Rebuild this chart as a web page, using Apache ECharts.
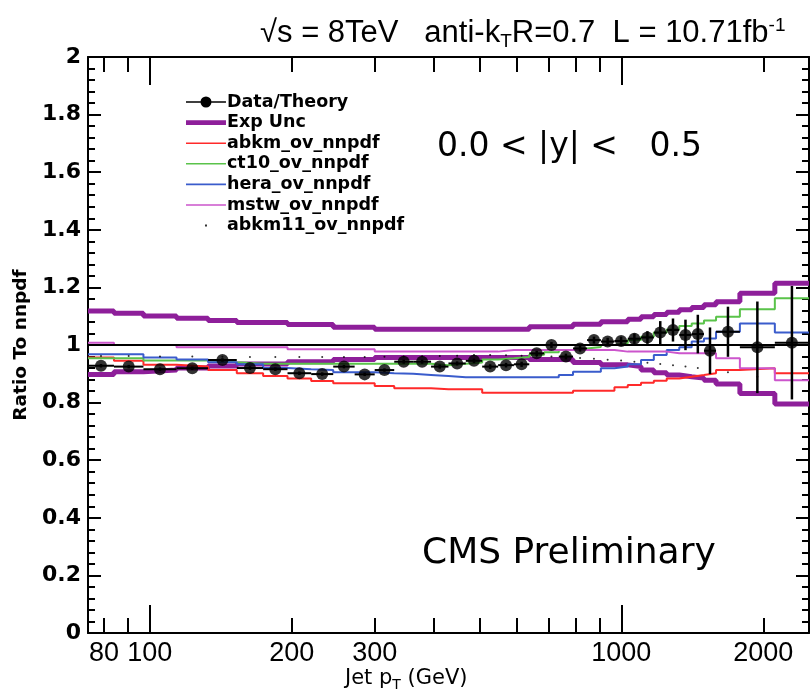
<!DOCTYPE html>
<html><head><meta charset="utf-8">
<script src="https://cdn.jsdelivr.net/npm/echarts@6/dist/echarts.min.js"></script>
<style>html,body{margin:0;padding:0;background:#fff}#c{width:811px;height:696px}</style>
</head><body><div id="c"></div>
<script>
// ---- data ----
const xMin = 74, xMax = 2500;
const binEdges = [74,84,97,114,133,153,174,196,220,245,272,300,330,362,395,430,468,507,548,592,638,686,737,790,846,905,967,1032,1101,1172,1248,1327,1410,1497,1588,1784,2116,2500];
const dataRatio = [0.928,0.925,0.916,0.919,0.948,0.920,0.916,0.902,0.899,0.925,0.898,0.913,0.942,0.942,0.925,0.936,0.945,0.925,0.930,0.933,0.971,1.000,0.960,0.988,1.017,1.012,1.014,1.022,1.026,1.043,1.052,1.035,1.038,0.980,1.046,0.992,1.008];
const dataErr = [0.006,0.006,0.006,0.006,0.006,0.006,0.006,0.006,0.006,0.006,0.006,0.006,0.007,0.007,0.007,0.007,0.008,0.008,0.008,0.009,0.009,0.010,0.010,0.011,0.012,0.013,0.015,0.018,0.022,0.040,0.040,0.053,0.067,0.081,0.087,0.159,0.197];
const expUncUp = [1.118,1.110,1.101,1.093,1.085,1.078,1.078,1.071,1.071,1.062,1.062,1.055,1.055,1.055,1.055,1.055,1.055,1.055,1.055,1.055,1.063,1.063,1.063,1.072,1.072,1.081,1.081,1.089,1.098,1.106,1.114,1.122,1.130,1.140,1.150,1.180,1.214];
const expUncLow = [0.898,0.907,0.913,0.920,0.927,0.934,0.934,0.942,0.942,0.950,0.950,0.957,0.957,0.957,0.957,0.957,0.957,0.957,0.957,0.957,0.950,0.950,0.950,0.939,0.939,0.931,0.931,0.925,0.913,0.904,0.896,0.890,0.885,0.878,0.865,0.832,0.795];
const abkm = [0.957,0.945,0.931,0.925,0.913,0.902,0.892,0.884,0.875,0.867,0.867,0.858,0.850,0.850,0.846,0.846,0.846,0.834,0.834,0.834,0.834,0.834,0.834,0.841,0.841,0.841,0.853,0.861,0.869,0.876,0.884,0.890,0.896,0.902,0.913,0.919,0.902];
const ct10 = [0.954,0.954,0.946,0.946,0.940,0.935,0.935,0.935,0.935,0.935,0.935,0.935,0.935,0.935,0.930,0.935,0.939,0.950,0.954,0.958,0.966,0.975,0.983,0.988,0.993,1.000,1.006,1.017,1.029,1.043,1.054,1.066,1.075,1.085,1.098,1.124,1.162];
const hera = [0.968,0.968,0.957,0.950,0.940,0.933,0.920,0.916,0.913,0.905,0.905,0.902,0.900,0.896,0.892,0.888,0.888,0.888,0.888,0.888,0.888,0.888,0.896,0.907,0.907,0.919,0.925,0.933,0.948,0.965,0.983,0.992,1.012,1.023,1.046,1.075,1.043];
const mstw = [1.008,1.000,1.000,0.992,0.992,0.992,0.992,0.985,0.985,0.985,0.985,0.977,0.977,0.977,0.977,0.977,0.977,0.977,0.983,0.983,0.983,0.983,0.983,0.983,0.983,0.983,0.977,0.977,0.977,0.977,0.971,0.971,0.971,0.971,0.954,0.919,0.878];
const abkm11 = [0.962,0.962,0.960,0.960,0.959,0.958,0.958,0.958,0.958,0.958,0.958,0.959,0.960,0.961,0.962,0.963,0.965,0.965,0.964,0.963,0.962,0.960,0.958,0.955,0.952,0.949,0.946,0.942,0.938,0.934,0.930,0.925,0.920,0.915,0.905,0.890,0.870];
const xLabelValues = [80,100,200,300,1000,2000];
const xMajorTicks = [100,1000];
const xMinorTicks = [80,90,200,300,400,500,600,700,800,900,2000];

// ---- helpers ----
const nb = binEdges.length - 1;
const centers = [];
for (let i = 0; i < nb; i++) centers.push(Math.sqrt(binEdges[i] * binEdges[i + 1]));
function stepData(vals) {
  const d = vals.map((v, i) => [binEdges[i], v]);
  d.push([binEdges[nb], vals[nb - 1]]);
  return d;
}
const FONT = 'DejaVu Sans';
const HELV = 'Liberation Sans';
const C = { purple: '#8e1f9a', red: '#ff2a2a', green: '#5ac34a', blue: '#3a5ccc', mag: '#cc55cc' };

function histSeries(name, vals, color, width) {
  return { name, type: 'line', step: 'end', data: stepData(vals), symbol: 'none', color,
    lineStyle: { color, width }, silent: true, animation: false, z: 3 };
}

const errData = dataRatio.map((v, i) => [centers[i], v, binEdges[i], binEdges[i + 1], dataErr[i]]);

const chart = echarts.init(document.getElementById('c'), null, { renderer: 'canvas' });
const boxPad = 'M0,0h0.01v0.01h-0.01z M40,14h0.01v0.01h-0.01z ';
const option = {
  backgroundColor: '#fff',
  animation: false,
  grid: { left: 88, right: 2, top: 57, bottom: 63, containLabel: false },
  title: [
    { text: '√s = 8TeV   anti-k{sub|T}R=0.7  L = 10.71fb{sup|-1}', left: 255, top: 11,
      textStyle: { fontFamily: HELV, fontSize: 31, fontWeight: 'normal', color: '#000',
        rich: { sub: { fontFamily: HELV, fontSize: 19, verticalAlign: 'bottom', padding: [16, 0, 0, 0] },
                sup: { fontFamily: HELV, fontSize: 19, verticalAlign: 'top', padding: [0, 0, 12, 0] } } } },
    { text: '0.0 < |y| <   0.5', left: 432, top: 126, textStyle: { fontFamily: FONT, fontSize: 33, fontWeight: 'normal', color: '#000' } },
    { text: 'CMS Preliminary', left: 417, top: 531, textStyle: { fontFamily: FONT, fontSize: 36, fontWeight: 'normal', color: '#000' } },
    { text: 'Jet p{sub|T} (GeV)', left: 340, top: 661,
      textStyle: { fontFamily: FONT, fontSize: 21, fontWeight: 'normal', color: '#000',
        rich: { sub: { fontFamily: FONT, fontSize: 14, verticalAlign: 'bottom', padding: [12, 0, 0, 0] } } } }
  ],
  legend: {
    orient: 'vertical', left: 181, top: 88, itemGap: 2.6, itemWidth: 40, itemHeight: 14,
    textStyle: { fontFamily: FONT, fontSize: 17.5, fontWeight: 'bold', color: '#000', padding: [0, 0, 0, -4] },
    itemStyle: { borderWidth: 0 },
    data: [
      { name: 'Data/Theory', icon: 'path://' + boxPad + 'M0,6.2L40,6.2L40,7.8L0,7.8Z M25.5,7A5.5,5.5 0 1,1 14.5,7A5.5,5.5 0 1,1 25.5,7Z' },
      { name: 'Exp Unc', icon: 'path://' + boxPad + 'M0,4.6L40,4.6L40,9.4L0,9.4Z' },
      { name: 'abkm_ov_nnpdf', icon: 'path://' + boxPad + 'M0,6.2L40,6.2L40,7.8L0,7.8Z' },
      { name: 'ct10_ov_nnpdf', icon: 'path://' + boxPad + 'M0,6.2L40,6.2L40,7.8L0,7.8Z' },
      { name: 'hera_ov_nnpdf', icon: 'path://' + boxPad + 'M0,6.2L40,6.2L40,7.8L0,7.8Z' },
      { name: 'mstw_ov_nnpdf', icon: 'path://' + boxPad + 'M0,6.2L40,6.2L40,7.8L0,7.8Z' },
      { name: 'abkm11_ov_nnpdf', icon: 'path://' + boxPad + 'M19,6h2v2h-2z' }
    ]
  },
  xAxis: [
    { type: 'log', min: xMin, max: xMax, position: 'bottom',
      axisLine: { show: true, lineStyle: { color: '#000', width: 2 } },
      axisTick: { show: true, inside: true, length: 28, customValues: xMajorTicks, lineStyle: { color: '#000', width: 2 } },
      axisLabel: { show: true, customValues: xLabelValues, margin: 7, fontFamily: HELV, fontSize: 27, color: '#000',
        formatter: v => String(Math.round(v)) },
      splitLine: { show: false }, minorTick: { show: false } },
    { type: 'log', min: xMin, max: xMax, position: 'bottom',
      axisLine: { show: false },
      axisTick: { show: true, inside: true, length: 15, customValues: xMinorTicks, lineStyle: { color: '#000', width: 2 } },
      axisLabel: { show: false }, splitLine: { show: false } },
    { type: 'log', min: xMin, max: xMax, position: 'top',
      axisLine: { show: true, lineStyle: { color: '#000', width: 2 } },
      axisTick: { show: true, inside: true, length: 28, customValues: xMajorTicks, lineStyle: { color: '#000', width: 2 } },
      axisLabel: { show: false }, splitLine: { show: false } },
    { type: 'log', min: xMin, max: xMax, position: 'top',
      axisLine: { show: false },
      axisTick: { show: true, inside: true, length: 15, customValues: xMinorTicks, lineStyle: { color: '#000', width: 2 } },
      axisLabel: { show: false }, splitLine: { show: false } }
  ],
  yAxis: [
    { type: 'value', min: 0, max: 2, interval: 0.2, position: 'left',
      name: 'Ratio To nnpdf', nameLocation: 'middle', nameGap: 57, nameRotate: 90,
      nameTextStyle: { fontFamily: FONT, fontSize: 18.5, fontWeight: 'bold', color: '#000' },
      axisLine: { show: true, lineStyle: { color: '#000', width: 2 } },
      axisTick: { show: true, inside: true, length: 13, lineStyle: { color: '#000', width: 2 } },
      minorTick: { show: true, splitNumber: 5, length: 7, lineStyle: { color: '#000', width: 2 } },
      axisLabel: { show: true, margin: 7, fontFamily: FONT, fontSize: 22, fontWeight: 'bold', color: '#000',
        formatter: v => (Math.abs(v - Math.round(v)) < 1e-9 ? String(Math.round(v)) : v.toFixed(1)) },
      splitLine: { show: false } },
    { type: 'value', min: 0, max: 2, interval: 0.2, position: 'right',
      axisLine: { show: true, lineStyle: { color: '#000', width: 2 } },
      axisTick: { show: true, inside: true, length: 13, lineStyle: { color: '#000', width: 2 } },
      minorTick: { show: true, splitNumber: 5, length: 7, lineStyle: { color: '#000', width: 2 } },
      axisLabel: { show: false }, splitLine: { show: false } }
  ],
  series: [
    histSeries('Exp Unc', expUncUp, C.purple, 5),
    histSeries('Exp Unc', expUncLow, C.purple, 5),
    histSeries('abkm_ov_nnpdf', abkm, C.red, 2),
    histSeries('ct10_ov_nnpdf', ct10, C.green, 2),
    histSeries('hera_ov_nnpdf', hera, C.blue, 2),
    histSeries('mstw_ov_nnpdf', mstw, C.mag, 2),
    { name: 'unity', type: 'line', data: [[xMin, 1], [xMax, 1]], symbol: 'none', color: '#000',
      lineStyle: { color: '#000', width: 2 }, silent: true, z: 4 },
    { name: 'abkm11_ov_nnpdf', type: 'scatter', data: abkm11.map((v, i) => [centers[i], v]),
      symbol: 'circle', symbolSize: 2, color: '#000', itemStyle: { color: '#000' }, z: 5, silent: true },
    { name: 'Data/Theory', type: 'custom', data: errData, encode: { x: 0, y: 1 }, color: '#000', z: 6, silent: true,
      renderItem: (params, api) => {
        const xc = api.value(0), y = api.value(1), lo = api.value(2), hi = api.value(3), e = api.value(4);
        const pL = api.coord([lo, y]), pH = api.coord([hi, y]);
        const pT = api.coord([xc, y + e]), pB = api.coord([xc, y - e]);
        return { type: 'group', children: [
          { type: 'line', shape: { x1: pL[0], y1: pL[1], x2: pH[0], y2: pH[1] }, style: { stroke: '#000', lineWidth: 2 } },
          { type: 'line', shape: { x1: pT[0], y1: pT[1], x2: pB[0], y2: pB[1] }, style: { stroke: '#000', lineWidth: 2.5 } }
        ] };
      } },
    { name: 'Data/Theory', type: 'scatter', data: dataRatio.map((v, i) => [centers[i], v]),
      symbol: 'circle', symbolSize: 12, color: '#000', itemStyle: { color: '#000' }, z: 7, silent: true }
  ]
};
chart.setOption(option);
</script></body></html>
